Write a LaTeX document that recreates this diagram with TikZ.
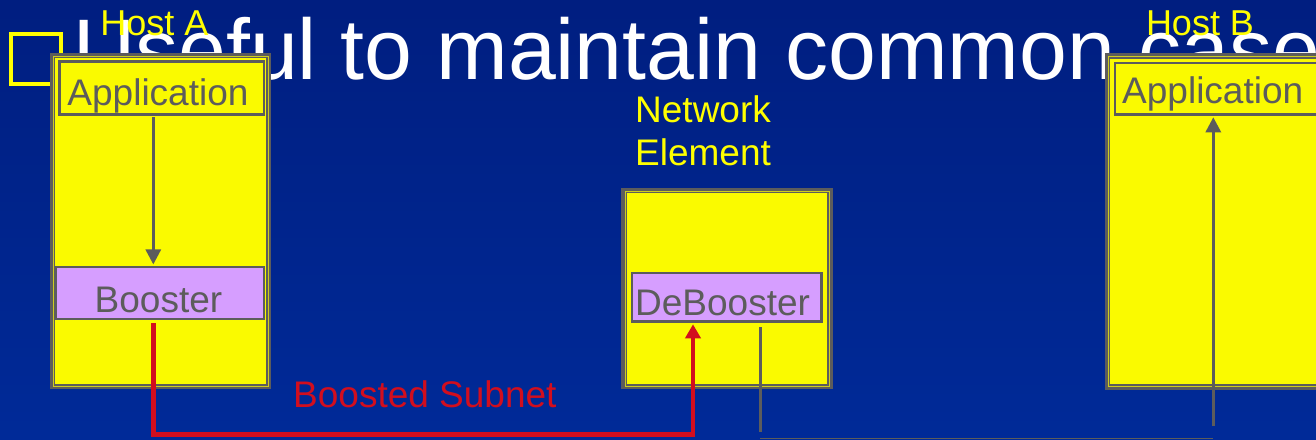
\documentclass[tikz,border=0pt]{standalone}
\usepackage{fontspec}
\setmainfont{Liberation Sans}
\usetikzlibrary{arrows.meta,calc}
\definecolor{bgtop}{RGB}{0,30,128}
\definecolor{bgbot}{RGB}{0,42,152}
\definecolor{boxyellow}{RGB}{250,250,0}
\definecolor{boxgray}{RGB}{92,92,92}
\definecolor{olivel}{RGB}{205,205,30}
\definecolor{lavender}{RGB}{214,158,255}
\definecolor{subnetred}{RGB}{210,14,30}
\definecolor{labelyellow}{RGB}{255,255,0}
\begin{document}
\begin{tikzpicture}[x=1pt,y=-1pt,
  hostbox/.style={draw=boxgray, line width=5.5pt, fill=boxyellow, inner sep=0pt, rectangle},
  appbox/.style={draw=boxgray, line width=2.5pt, fill=boxyellow, inner sep=0pt, rectangle},
  boostbox/.style={draw=boxgray, line width=2.5pt, fill=lavender, inner sep=0pt, rectangle},
  innerline/.style={draw=olivel, line width=0.6pt},
  graytext/.style={inner sep=0pt, text=boxgray, font=\fontsize{37}{44}\selectfont},
  yeltext/.style={inner sep=0pt, text=labelyellow, font=\fontsize{37}{44}\selectfont},
  hostlbl/.style={inner sep=0pt, text=labelyellow, font=\fontsize{36}{42}\selectfont},
  redtext/.style={inner sep=0pt, text=subnetred, font=\fontsize{37}{44}\selectfont},
  grayarrow/.style={draw=boxgray, line width=3pt, -{Triangle[width=15pt,length=15pt]}},
  grayline/.style={draw=boxgray, line width=3pt},
  redarrow/.style={draw=subnetred, line width=4.8pt, line join=miter, -{Triangle[width=15pt,length=14pt]}}
]
\useasboundingbox (0,0) rectangle (1316,439);
\clip (0,0) rectangle (1316,439);
\shade[top color=bgtop, bottom color=bgbot] (0,0) rectangle (1316,439);

% title and bullet
\node[anchor=base west, inner sep=0pt, text=white, font=\fontsize{86}{100}\selectfont] (title) at (73,79) {Useful to maintain common case};
\node[draw=labelyellow, line width=4pt, minimum width=50pt, minimum height=50pt, inner sep=0pt] (bullet) at (35.5,59) {};

% Host A
\node[hostbox, minimum width=216pt, minimum height=331pt] (hostA) at (160.5,221) {};
\draw[innerline] ([shift={(3.4,3.4)}]hostA.north west) rectangle ([shift={(-3.4,-3.4)}]hostA.south east);
\node[appbox, minimum width=204.3pt, minimum height=53.3pt] (appA) at (161.7,87.9) {};
\node[boostbox, minimum width=207.6pt, minimum height=51.6pt] (boostA) at (160,293) {};

% Network element
\node[hostbox, minimum width=206pt, minimum height=196.3pt] (ne) at (727.2,288.4) {};
\draw[innerline] ([shift={(3.4,3.4)}]ne.north west) rectangle ([shift={(-3.4,-3.4)}]ne.south east);
\node[boostbox, minimum width=189.3pt, minimum height=48.6pt] (deB) at (726.8,297.2) {};

% Host B
\node[hostbox, minimum width=232.5pt, minimum height=331pt] (hostB) at (1223.75,221.3) {};
\draw[innerline] ([shift={(3.4,3.4)}]hostB.north west) rectangle ([shift={(-3.4,-3.4)}]hostB.south east);
\node[appbox, minimum width=224.8pt, minimum height=51.6pt] (appB) at (1227.6,88.7) {};

% connectors
\coordinate (ax) at (153.3,0);
\draw[grayarrow] ($(appA.south -| ax)+(0,1.5)$) -- ($(boostA.north -| ax)+(0,-1.5)$);

\coordinate (r1) at (153.8,434.3);
\coordinate (r2) at (693,434.3);
\draw[redarrow] ($(boostA.south -| r1)+(0,3)$) -- (r1) -- (r2) -- ($(deB.south -| r2)+(0,1.5)$);

\coordinate (g1) at (760,327.3);
\coordinate (g2) at (760,431.7);
\draw[grayline] (g1) -- (g2);

\coordinate (b1) at (1213.3,426);
\draw[grayarrow] (b1) -- ($(appB.south -| b1)+(0,1.5)$);

\coordinate (f1) at (760,438.8);
\coordinate (f2) at (1213.3,438.8);
\draw[draw=boxgray, line width=1pt] (f1) -- (f2);

% texts
\node[graytext, anchor=base] (appAtxt) at (158,105) {Application};
\node[graytext, anchor=base west] (appBtxt) at (1122,103) {Application};
\node[graytext, anchor=base] (boostAtxt) at (158.5,312) {Booster};
\node[graytext, anchor=base west] (deBtxt) at (635,315) {DeBooster};
\node[yeltext, anchor=base west] (netlbl) at (635,122) {Network};
\node[yeltext, anchor=base west] (elemlbl) at (635,165) {Element};
\node[redtext, anchor=base west] (subnetlbl) at (293,407) {Boosted Subnet};
\node[hostlbl, anchor=base] (hostAlbl) at (154.5,35) {Host A};
\node[hostlbl, anchor=base] (hostBlbl) at (1200,35) {Host B};
\end{tikzpicture}
\end{document}
